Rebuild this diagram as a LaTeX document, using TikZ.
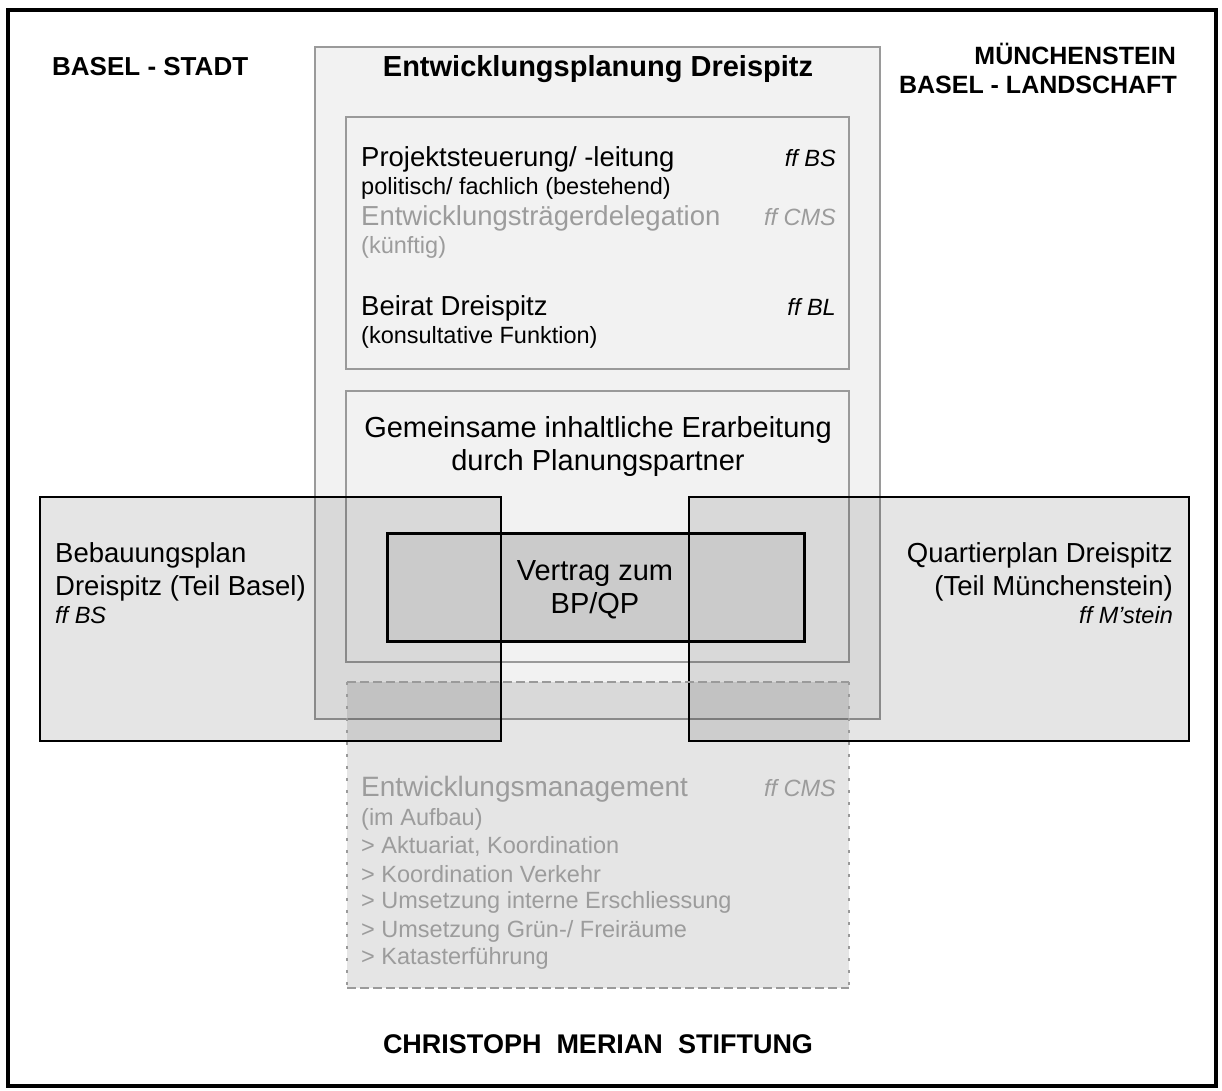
\documentclass[tikz,border=0pt]{standalone}
\usepackage{fontspec}
\setmainfont{Liberation Sans}
\definecolor{boxgray}{HTML}{9A9A9A}
\definecolor{txtgray}{HTML}{9C9C9C}
\definecolor{lightfill}{HTML}{F2F2F2}
\definecolor{vfill}{HTML}{CBCBCB}
\begin{document}
\begin{tikzpicture}[x=1pt,y=-1pt,
  big/.style={font=\fontsize{27.5}{33}\selectfont, inner sep=0pt},
  bigger/.style={font=\fontsize{29}{35}\selectfont, inner sep=0pt},
  small/.style={font=\fontsize{23.5}{28}\selectfont, inner sep=0pt},
  ital/.style={font=\fontsize{23.5}{28}\selectfont\itshape, inner sep=0pt},
  head/.style={font=\fontsize{26}{31}\selectfont\bfseries, inner sep=0pt},
  ghost/.style={text=txtgray},
  grayframe/.style={draw=boxgray, line width=2.5pt},
  blackframe/.style={draw=black, line width=3pt},
  shade/.style={fill=black, fill opacity=0.1},
]
\useasboundingbox (0,0) rectangle (1222,1090);
\fill[white] (0,0) rectangle (1222,1090);

% Entwicklungsplanung box
\fill[lightfill] (315,47) rectangle (880,719);
\draw[grayframe] (315,47) rectangle (880,719);
\draw[grayframe] (346,117) rectangle (849,369);
\draw[grayframe] (346,391) rectangle (849,662);

% transparent shaded boxes
\fill[shade] (40,497) rectangle (501,741);
\fill[shade] (689,497) rectangle (1189,741);
\fill[shade] (347,682) rectangle (849,988);

% Vertrag box
\fill[vfill] (387,533) rectangle (804,641);
\draw[blackframe] (387,533) rectangle (804,641);

% black framed plan boxes
\draw[blackframe, line width=2.8pt] (40,497) rectangle (501,741);
\draw[blackframe, line width=2.8pt] (689,497) rectangle (1189,741);

% Entwicklungsmanagement dashed box
\draw[draw=boxgray, line width=2.5pt, dash pattern=on 9pt off 4pt] (347,682) -- (849,682);
\draw[draw=boxgray, line width=2.5pt, dash pattern=on 9pt off 4pt] (347,988) -- (849,988);
\draw[draw=boxgray, line width=2.5pt, dash pattern=on 3pt off 9pt] (347,682) -- (347,988);
\draw[draw=boxgray, line width=2.5pt, dash pattern=on 3pt off 9pt] (849,682) -- (849,988);

% outer frame
\draw[line width=3.5pt] (8,10) rectangle (1216,1086);

% corner labels
\node[head, anchor=base west] (bs) at (52,75) {BASEL - STADT};
\node[head, font=\fontsize{25}{30}\selectfont\bfseries, anchor=base east] (mu) at (1176,64) {MÜNCHENSTEIN};
\node[head, font=\fontsize{25}{30}\selectfont\bfseries, anchor=base east] (bl) at (1177,93) {BASEL - LANDSCHAFT};
\node[head, font=\fontsize{27}{32}\selectfont\bfseries, anchor=base] (cms) at (598,1053) {CHRISTOPH\ \ MERIAN\ \ STIFTUNG};

% Entwicklungsplanung
\node[head, font=\fontsize{29}{34}\selectfont\bfseries, anchor=base] (title) at (598,76) {Entwicklungsplanung Dreispitz};
\node[big, anchor=base west] (ps) at (361,166) {Projektsteuerung/ -leitung};
\node[ital, anchor=base east] (psff) at (836,166) {ff BS};
\node[small, anchor=base west] (pf) at (361,194) {politisch/ fachlich (bestehend)};
\node[big, ghost, anchor=base west] (etd) at (361,225) {Entwicklungsträgerdelegation};
\node[ital, ghost, anchor=base east] (etdff) at (836,225) {ff CMS};
\node[small, ghost, anchor=base west] (kf) at (361,253) {(künftig)};
\node[big, anchor=base west] (bd) at (361,315) {Beirat Dreispitz};
\node[ital, anchor=base east] (bdff) at (836,315) {ff BL};
\node[small, anchor=base west] (kfn) at (361,343) {(konsultative Funktion)};

\node[bigger, anchor=base] (ge1) at (598,437) {Gemeinsame inhaltliche Erarbeitung};
\node[bigger, anchor=base] (ge2) at (598,470) {durch Planungspartner};

\node[bigger, anchor=base] (v1) at (595,580) {Vertrag zum};
\node[bigger, anchor=base] (v2) at (595,613) {BP/QP};

% Bebauungsplan
\node[big, anchor=base west] (bp1) at (55,562) {Bebauungsplan};
\node[big, anchor=base west] (bp2) at (55,595) {Dreispitz (Teil Basel)};
\node[ital, anchor=base west] (bp3) at (55,623) {ff BS};

% Quartierplan
\node[big, anchor=base east] (qp1) at (1173,562) {Quartierplan Dreispitz};
\node[big, anchor=base east] (qp2) at (1173,595) {(Teil Münchenstein)};
\node[ital, anchor=base east] (qp3) at (1173,623) {ff M’stein};

% Entwicklungsmanagement
\node[big, font=\fontsize{28}{33}\selectfont, ghost, anchor=base west] (em) at (361,796) {Entwicklungsmanagement};
\node[ital, ghost, anchor=base east] (emff) at (836,796) {ff CMS};
\node[small, ghost, anchor=base west] (em1) at (361,825) {(im Aufbau)};
\node[small, ghost, anchor=base west] (em2) at (361,853) {> Aktuariat, Koordination};
\node[small, ghost, anchor=base west] (em3) at (361,882) {> Koordination Verkehr};
\node[small, ghost, anchor=base west] (em4) at (361,908) {> Umsetzung interne Erschliessung};
\node[small, ghost, anchor=base west] (em5) at (361,937) {> Umsetzung Grün-/ Freiräume};
\node[small, ghost, anchor=base west] (em6) at (361,964) {> Katasterführung};
\end{tikzpicture}
\end{document}
